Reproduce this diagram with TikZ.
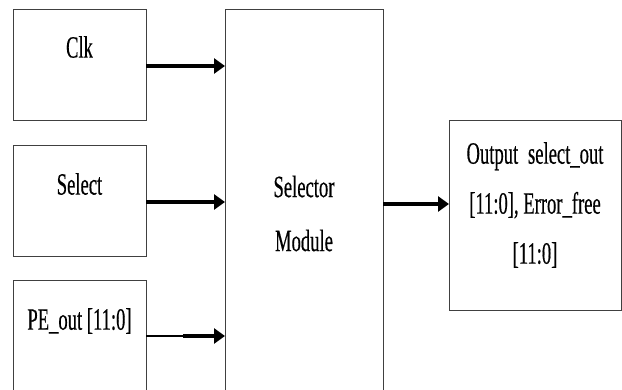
\documentclass[tikz,border=0pt]{standalone}
\usepackage{fontspec}
\newfontfamily\condserif[FakeStretch=0.6,FakeBold=0.4]{Liberation Serif}
\usetikzlibrary{arrows.meta}
\begin{document}
\begin{tikzpicture}[x=1pt,y=1pt,
  blk/.style={draw=black!75, line width=1pt, fill=white, inner sep=0pt, outer sep=0pt},
  txt/.style={font=\condserif\fontsize{31}{50}\selectfont, inner sep=0pt, align=center},
  sig/.style={line width=3.5pt, -{Triangle[length=11pt,width=15pt]}},
  thinsig/.style={line width=2.2pt}]
\useasboundingbox (0,0) rectangle (622,389);
% input blocks
\node[blk, minimum width=133pt, minimum height=111pt] (clk) at (79.5,323.5) {};
\node[blk, minimum width=133pt, minimum height=110pt] (sel) at (79.5,188) {};
\node[blk, minimum width=133pt, minimum height=118pt] (pe) at (79.5,50) {};
% selector module (runs past the lower edge)
\node[blk, minimum width=158pt, minimum height=388pt] (mod) at (304,185) {};
% output block
\node[blk, minimum width=172pt, minimum height=189pt] (out) at (535,173.5) {};
% labels
\node[txt] (clkt) at ([yshift=-37pt]clk.north) {Clk};
\node[txt] (selt) at ([yshift=-38pt]sel.north) {Select};
\node[txt] (pet) at ([yshift=-41pt]pe.north) {PE\_out [11:0]};
\node[txt] (modt) at (304,175.5) {Selector\\[4pt]Module};
\node[txt] (outt) at (535,184) {Output\, select\_out\\{}[11:0], Error\_free\\{}[11:0]};
% connectors
\draw[sig] (clk.east |- 0,323) -- (mod.west |- 0,323);
\draw[sig] (sel.east |- 0,187) -- (mod.west |- 0,187);
\coordinate (pemid) at (183,53);
\draw[thinsig] (pe.east |- pemid) -- (pemid);
\draw[sig] (pemid) -- (mod.west |- pemid);
\draw[sig] (mod.east |- 0,185) -- (out.west |- 0,185);
\end{tikzpicture}
\end{document}
